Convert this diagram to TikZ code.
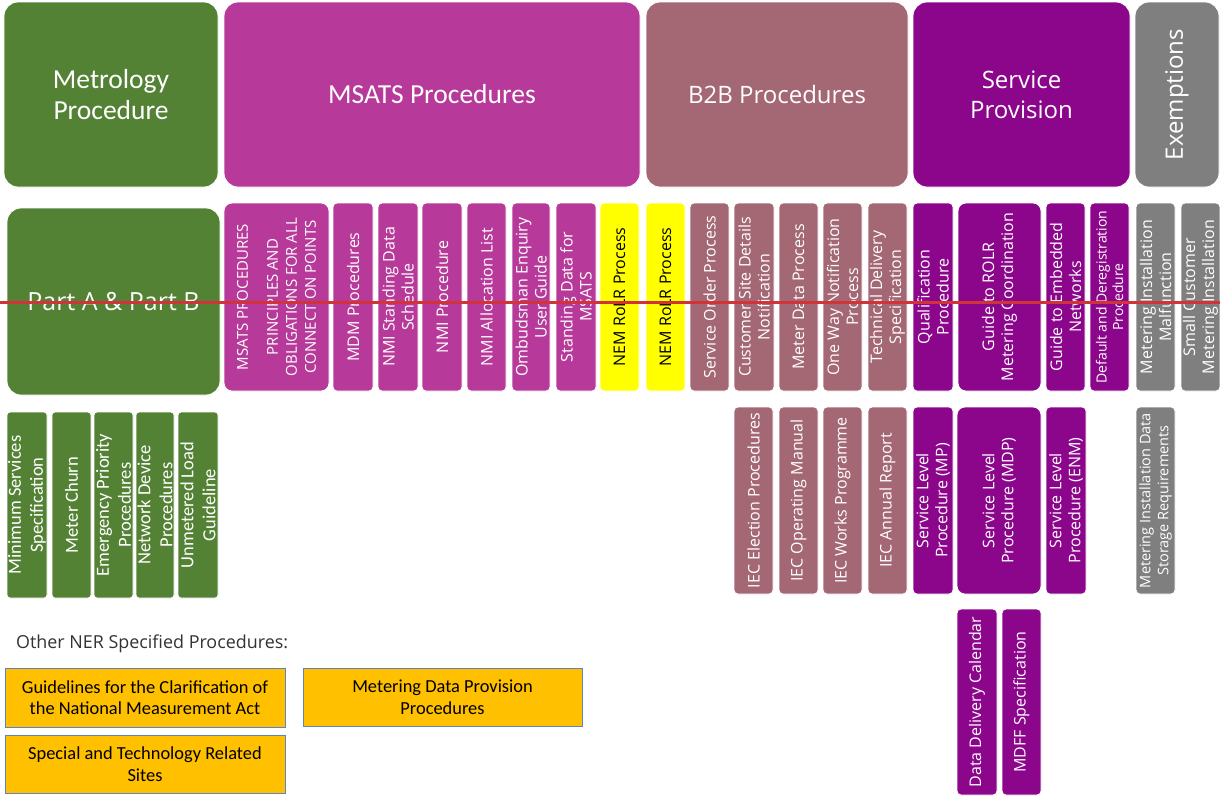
\documentclass[tikz,border=0pt]{standalone}
\usepackage{fontspec}
\setmainfont{Open Sans}
\newfontfamily\carl{Carlito}
\newfontfamily\opsans{Open Sans}
\definecolor{cgreen}{HTML}{548235}
\definecolor{cmsats}{HTML}{B73A9A}
\definecolor{cbtob}{HTML}{A36874}
\definecolor{cserv}{HTML}{8C068C}
\definecolor{cgray}{HTML}{7F7F7F}
\definecolor{cyel}{HTML}{FFFF00}
\definecolor{corange}{HTML}{FFC000}
\definecolor{cblue}{HTML}{5B83C8}
\definecolor{cred}{HTML}{D13438}
\definecolor{ctext}{HTML}{333333}
\newcommand\hbx[7]{\node[#6, minimum width={(#3-#2)*1pt}, minimum height={(#5-#4)*1pt}] (#1) at ({(#2+#3)/2},{(#4+#5)/2}) {#7};}
\newcommand\vbx[7]{\node[#6, rotate=90, minimum width={(#5-#4)*1pt}, minimum height={(#3-#2)*1pt}] (#1) at ({(#2+#3)/2},{(#4+#5)/2}) {#7};}
\tikzset{
  box/.style={draw=white, line width=0.8pt, text=white, inner sep=0pt, align=center},
  bigcal/.style={box, rounded corners=14pt, font=\carl\fontsize{27.5}{31}\selectfont},
  bigos/.style={box, rounded corners=14pt, font=\opsans\fontsize{24}{30}\selectfont},
  sm/.style={box, rounded corners=4pt, font=\opsans\fontsize{16}{19}\selectfont},
  mid/.style={box, rounded corners=8pt, font=\opsans\fontsize{16}{19}\selectfont},
  gsm/.style={box, rounded corners=3pt, fill=cgreen, font=\carl\fontsize{18.5}{22}\selectfont},
  obox/.style={draw=cblue, line width=1pt, fill=corange, text=black, align=center, inner sep=0pt, font=\carl\fontsize{18.4}{21.5}\selectfont},
  redline/.style={draw=cred, line width=3pt}
}
\begin{document}
\begin{tikzpicture}[x=1pt,y=-1pt]
\fill[white] (0,0) rectangle (1220,796);
\useasboundingbox (0,0) rectangle (1220,796);
% top headers
\hbx{metro}{4}{218}{2}{187}{bigcal, fill=cgreen}{Metrology\\Procedure}
\hbx{msats}{224}{640}{2}{187}{bigcal, fill=cmsats}{MSATS Procedures}
\hbx{btob}{646}{908}{2}{187}{bigos, fill=cbtob}{B2B Procedures}
\hbx{serv}{913}{1130}{2}{187}{bigos, fill=cserv}{Service\\Provision}
\vbx{exem}{1135}{1219}{2}{187}{bigos, fill=cgray}{Exemptions}
% row 2
\hbx{parts}{7}{220}{208}{395}{bigos, fill=cgreen, font=\opsans\fontsize{25}{30}\selectfont}{Part A \& Part B}
\vbx{prin}{224}{329}{203}{391}{mid, fill=cmsats, font=\opsans\fontsize{15}{19}\selectfont}{MSATS PROCEDURES\\[11pt]PRINCIPLES AND\\OBLIGATIONS FOR ALL\\CONNECTION POINTS}
\vbx{mdm}{333}{373}{203}{391}{sm, fill=cmsats}{MDM Procedures}
\vbx{nmisd}{378}{418}{203}{391}{sm, fill=cmsats}{NMI Standing Data\\Schedule}
\vbx{nmip}{422}{462}{203}{391}{sm, fill=cmsats}{NMI Procedure}
\vbx{nmia}{467}{506}{203}{391}{sm, fill=cmsats}{NMI Allocation List}
\vbx{omb}{512}{550}{203}{391}{sm, fill=cmsats}{Ombudsman Enquiry\\User Guide}
\vbx{sdm}{556}{596}{203}{391}{sm, fill=cmsats}{Standing Data for\\MSATS}
\vbx{nem1}{600}{639}{203}{391}{sm, fill=cyel, text=black}{NEM RoLR Process}
\vbx{nem2}{646}{685}{203}{391}{sm, fill=cyel, text=black}{NEM RoLR Process}
\vbx{sop}{690}{729}{203}{391}{sm, fill=cbtob}{Service Order Process}
\vbx{csd}{734}{774}{203}{391}{sm, fill=cbtob}{Customer Site Details\\Notification}
\vbx{mdp}{779}{818}{203}{391}{sm, fill=cbtob}{Meter Data Process}
\vbx{owk}{823}{862}{203}{391}{sm, fill=cbtob}{One Way Notification\\Process}
\vbx{tds}{868}{907}{203}{391}{sm, fill=cbtob}{Technical Delivery\\Specification}
\vbx{qual}{913}{953}{203}{391}{sm, fill=cserv}{Qualification\\Procedure}
\vbx{grolr}{958}{1041}{203}{391}{mid, fill=cserv}{Guide to ROLR\\Metering Coordination}
\vbx{gemb}{1046}{1085}{203}{391}{sm, fill=cserv}{Guide to Embedded\\Networks}
\vbx{dereg}{1090}{1129}{203}{391}{sm, fill=cserv, font=\opsans\fontsize{14}{16.5}\selectfont}{Default and Deregistration\\Procedure}
\vbx{mim}{1136}{1175}{203}{391}{sm, fill=cgray}{Metering Installation\\Malfunction}
\vbx{scmi}{1181}{1220}{203}{391}{sm, fill=cgray}{Small Customer\\Metering Installation}
% row 3 green
\vbx{mss}{7}{47}{412}{598}{gsm}{Minimum Services\\Specification}
\vbx{mch}{52}{91}{412}{598}{gsm}{Meter Churn}
\vbx{epp}{94}{133}{412}{598}{gsm}{Emergency Priority\\Procedures}
\vbx{ndp}{136}{174}{412}{598}{gsm}{Network Device\\Procedures}
\vbx{ulg}{178}{218}{412}{598}{gsm}{Unmetered Load\\Guideline}
% row 3 right
\vbx{iece}{734}{773}{407}{594}{sm, fill=cbtob}{IEC Election Procedures}
\vbx{iecom}{779}{818}{407}{594}{sm, fill=cbtob}{IEC Operating Manual}
\vbx{iecw}{823}{862}{407}{594}{sm, fill=cbtob}{IEC Works Programme}
\vbx{ieca}{868}{907}{407}{594}{sm, fill=cbtob}{IEC Annual Report}
\vbx{slmp}{913}{953}{407}{594}{sm, fill=cserv}{Service Level\\Procedure (MP)}
\vbx{slmdp}{957}{1041}{407}{594}{mid, fill=cserv}{Service Level\\Procedure (MDP)}
\vbx{slenm}{1046}{1086}{407}{594}{sm, fill=cserv}{Service Level\\Procedure (ENM)}
\vbx{mids}{1136}{1175}{407}{594}{sm, fill=cgray, font=\opsans\fontsize{14.5}{18}\selectfont}{Metering Installation Data\\Storage Requirements}
% row 4
\vbx{ddc}{957}{997}{609}{795}{sm, fill=cserv}{Data Delivery Calendar}
\vbx{mdff}{1002}{1041}{609}{795}{sm, fill=cserv}{MDFF Specification}
% other procedures
\node[anchor=west, inner sep=0pt, text=ctext, font=\opsans\fontsize{17.9}{21}\selectfont] (other) at (16,644) {Other NER Specified Procedures:};
\hbx{guide}{5}{285}{668}{727}{obox}{Guidelines for the Clarification of\\the National Measurement Act}
\hbx{mdpp}{303}{582}{668}{726}{obox}{Metering Data Provision\\Procedures}
\hbx{stech}{5}{285}{735}{793}{obox}{Special and Technology Related\\Sites}
% red overlay line
\coordinate (rl) at (0,302);
\coordinate (rr) at (1220,302);
\draw[redline] (rl) -- (rr);
\end{tikzpicture}
\end{document}
